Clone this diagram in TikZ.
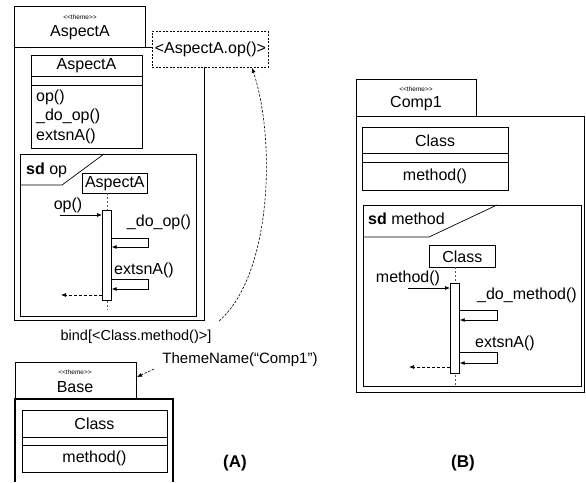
\documentclass[tikz,border=0pt]{standalone}
\usepackage{fontspec}
\setmainfont{Liberation Sans}
\usetikzlibrary{arrows.meta}
\newcommand{\stereo}{<\kern0pt<\kern0pt theme\kern0pt>\kern0pt>}
\begin{document}
\begin{tikzpicture}[x=1pt,y=-1pt,
  pkg/.style={draw, line width=1.1pt, rectangle, inner sep=0pt, anchor=north west},
  box/.style={draw, line width=0.7pt, rectangle, inner sep=0pt, anchor=north west},
  txt/.style={inner sep=0pt, font=\fontsize{16}{17}\selectfont},
  tiny/.style={inner sep=0pt, font=\fontsize{6.5}{7}\selectfont},
  ln/.style={line width=0.7pt},
  msg/.style={line width=0.7pt, -{Latex[length=5pt,width=4pt]}},
  ret/.style={line width=0.7pt, dash pattern=on 3pt off 2pt, -{Latex[length=5pt,width=4pt]}},
  life/.style={line width=0.6pt, gray!70!black, dash pattern=on 2pt off 2pt},
  dep/.style={line width=0.6pt, dash pattern=on 2.5pt off 1.5pt, -{Latex[length=5pt,width=4pt]}},
  lbl/.style={inner sep=0pt, font=\fontsize{17}{18}\selectfont\bfseries}]
\useasboundingbox (0,0) rectangle (586,482);

% ===== Package A =====
\node[pkg, minimum width=131pt, minimum height=41pt] (tabA) at (14,6) {};
\node[pkg, minimum width=190pt, minimum height=273pt] (bodyA) at (14,47) {};
\node[tiny] (stA) at (80,17) {\stereo};
\node[txt] (nmA) at (80,33) {AspectA};
\node[box, dash pattern=on 2pt off 1.5pt, fill=white, minimum width=116pt, minimum height=36pt] (tp) at (152,31) {};
\node[txt] (tptxt) at (tp.center) {<AspectA.op()>};

% class AspectA
\node[box, minimum width=111pt, minimum height=93pt] (clsA) at (31,55) {};
\draw[ln] (31,76) -- (142,76);
\draw[ln] (31,85) -- (142,85);
\node[txt] (clsAn) at (86.5,65.5) {AspectA};
\node[txt, anchor=west] (mA1) at (36,97) {op()};
\node[txt, anchor=west] (mA2) at (36,116) {\_do\_op()};
\node[txt, anchor=west] (mA3) at (36,136) {extsnA()};

% sd op
\node[box, minimum width=176pt, minimum height=162pt] (sdA) at (20,154) {};
\draw[ln] (20,185) -- (62,185) -- (104,154);
\node[txt, anchor=west] (sdAl) at (26,170) {\textbf{sd} op};
\node[box, minimum width=65pt, minimum height=20pt] (hdA) at (82,173) {};
\node[txt] (hdAt) at (hdA.center) {AspectA};
\coordinate (llA1) at (107,193);
\coordinate (llA2) at (107,310);
\draw[life] (llA1) -- (llA2);
\node[box, fill=white, minimum width=9pt, minimum height=90pt] (actA) at (102,210) {};
\node[txt] (opl) at (68,205) {op()};
\coordinate (opin) at (60,215);
\draw[msg] (opin) -- (opin -| actA.west);
\node[txt] (dol) at (159,222) {\_do\_op()};
\coordinate (sA1) at (148,238);
\coordinate (sA2) at (148,247);
\draw[msg] (sA1 -| actA.east) -- (sA1) -- (sA2) -- (sA2 -| actA.east);
\node[txt] (exl) at (144,270) {extsnA()};
\coordinate (sA3) at (148,279);
\coordinate (sA4) at (148,289);
\draw[msg] (sA3 -| actA.east) -- (sA3) -- (sA4) -- (sA4 -| actA.east);
\coordinate (rA) at (61,295);
\draw[ret] (rA -| actA.west) -- (rA);

% binding
\node[txt, font=\fontsize{14.5}{16}\selectfont] (bind) at (136,337) {bind[<Class.method()>]};
\coordinate (bindS) at (219,321);
\draw[dep] (bindS) .. controls (272,275) and (276,140) .. (tp.south -| 252,0);
\node[txt, font=\fontsize{15}{16}\selectfont] (thm) at (240,360) {ThemeName(“Comp1”)};
\coordinate (thmS) at (154,369);
\coordinate (thmE) at (137,377);
\draw[dep] (thmS) -- (thmE);

% Base
\node[pkg, minimum width=121pt, minimum height=37pt] (tabB) at (15,362) {};
\draw[line width=1.1pt] (15,482) -- (15,399) -- (173,399) -- (173,482);
\node[tiny] (stB) at (75,372) {\stereo};
\node[txt] (nmB) at (75,387) {Base};
\node[box, minimum width=145pt, minimum height=62pt] (clsB) at (22,410) {};
\draw[ln] (22,437) -- (167,437);
\draw[ln] (22,445) -- (167,445);
\node[txt] (clsBn) at (94.5,424) {Class};
\node[txt] (clsBm) at (94.5,458) {method()};
\node[lbl] (labA) at (235,463) {(A)};

% ===== Package B =====
\node[pkg, minimum width=120pt, minimum height=37pt] (tabC) at (356,79) {};
\node[pkg, minimum width=228pt, minimum height=276pt] (bodyC) at (356,116) {};
\node[tiny] (stC) at (416,89) {\stereo};
\node[txt] (nmC) at (416,104) {Comp1};
\node[box, minimum width=146pt, minimum height=63pt] (clsC) at (362,127) {};
\draw[ln] (362,153) -- (508,153);
\draw[ln] (362,162) -- (508,162);
\node[txt] (clsCn) at (435,141) {Class};
\node[txt] (clsCm) at (435,176) {method()};

\node[box, minimum width=218pt, minimum height=181pt] (sdC) at (363,205) {};
\draw[ln] (363,237) -- (429,237) -- (497,205);
\node[txt, anchor=west] (sdCl) at (368,219) {\textbf{sd} method};
\node[box, minimum width=66pt, minimum height=22pt] (hdC) at (429,245) {};
\node[txt] (hdCt) at (hdC.center) {Class};
\coordinate (llC1) at (455,267);
\coordinate (llC2) at (455,385);
\draw[life] (llC1) -- (llC2);
\node[box, fill=white, minimum width=9pt, minimum height=90pt] (actC) at (450,283) {};
\node[txt] (ml) at (408,278) {method()};
\coordinate (mCin) at (408,288);
\draw[msg] (mCin) -- (mCin -| actC.west);
\node[txt] (dml) at (527,295) {\_do\_method()};
\coordinate (sC1) at (497,310);
\coordinate (sC2) at (497,320);
\draw[msg] (sC1 -| actC.east) -- (sC1) -- (sC2) -- (sC2 -| actC.east);
\node[txt] (exCl) at (505,343) {extsnA()};
\coordinate (sC3) at (497,352);
\coordinate (sC4) at (497,363);
\draw[msg] (sC3 -| actC.east) -- (sC3) -- (sC4) -- (sC4 -| actC.east);
\coordinate (rC) at (409,367);
\draw[ret] (rC -| actC.west) -- (rC);
\node[lbl] (labB) at (463,463) {(B)};
\end{tikzpicture}
\end{document}
